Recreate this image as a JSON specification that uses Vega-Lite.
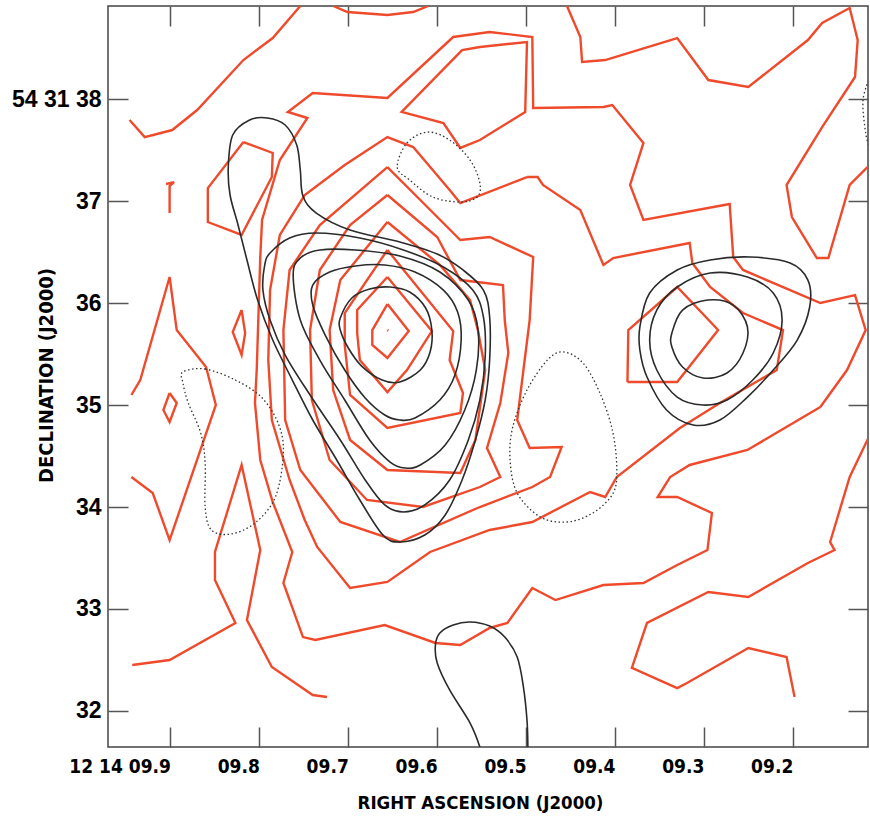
{
  "$schema": "https://vega.github.io/schema/vega-lite/v6.json",
  "width": 760,
  "height": 741,
  "autosize": {"type": "none"},
  "padding": {"left": 108, "top": 6, "right": 2, "bottom": 70},
  "background": "white",
  "config": {"view": {"stroke": "#444", "strokeWidth": 1.5}},
  "datasets": {
    "red": [
      {"c":"TL","ra":9.946,"dec":37.794},{"c":"TL","ra":9.929,"dec":37.627},{"c":"TL","ra":9.898,"dec":37.696},{"c":"TL","ra":9.870,"dec":37.892},{"c":"TL","ra":9.818,"dec":38.382},{"c":"TL","ra":9.785,"dec":38.598},{"c":"TL","ra":9.754,"dec":38.912},
      {"c":"TA","ra":9.717,"dec":38.912},{"c":"TA","ra":9.701,"dec":38.853},{"c":"TA","ra":9.656,"dec":38.824},{"c":"TA","ra":9.627,"dec":38.853},{"c":"TA","ra":9.610,"dec":38.912},
      {"c":"U2","ra":9.552,"dec":38.510},{"c":"U2","ra":9.499,"dec":38.559},{"c":"U2","ra":9.501,"dec":37.873},{"c":"U2","ra":9.552,"dec":37.598},{"c":"U2","ra":9.574,"dec":37.520},{"c":"U2","ra":9.593,"dec":37.765},{"c":"U2","ra":9.640,"dec":37.873},{"c":"U2","ra":9.572,"dec":38.480},{"c":"U2","ra":9.552,"dec":38.510},
      {"c":"U1","ra":9.169,"dec":34.980},{"c":"U1","ra":9.139,"dec":35.343},{"c":"U1","ra":9.118,"dec":35.735},{"c":"U1","ra":9.130,"dec":36.078},{"c":"U1","ra":9.169,"dec":36.000},{"c":"U1","ra":9.256,"dec":36.324},{"c":"U1","ra":9.267,"dec":36.451},{"c":"U1","ra":9.271,"dec":36.971},{"c":"U1","ra":9.368,"dec":36.814},{"c":"U1","ra":9.383,"dec":37.157},{"c":"U1","ra":9.368,"dec":37.569},{"c":"U1","ra":9.403,"dec":37.941},{"c":"U1","ra":9.413,"dec":37.922},{"c":"U1","ra":9.492,"dec":37.912},{"c":"U1","ra":9.493,"dec":38.608},{"c":"U1","ra":9.541,"dec":38.657},{"c":"U1","ra":9.582,"dec":38.608},{"c":"U1","ra":9.656,"dec":38.010},{"c":"U1","ra":9.740,"dec":38.059},{"c":"U1","ra":9.768,"dec":37.873},{"c":"U1","ra":9.746,"dec":37.814},{"c":"U1","ra":9.777,"dec":37.402},{"c":"U1","ra":9.797,"dec":36.814},{"c":"U1","ra":9.799,"dec":36.451},{"c":"U1","ra":9.803,"dec":35.343},{"c":"U1","ra":9.805,"dec":35.020},{"c":"U1","ra":9.799,"dec":34.461},{"c":"U1","ra":9.785,"dec":34.049},{"c":"U1","ra":9.763,"dec":33.559},{"c":"U1","ra":9.773,"dec":33.255},{"c":"U1","ra":9.751,"dec":32.725},{"c":"U1","ra":9.737,"dec":32.696},{"c":"U1","ra":9.659,"dec":32.843},{"c":"U1","ra":9.602,"dec":32.667},{"c":"U1","ra":9.574,"dec":32.647},{"c":"U1","ra":9.541,"dec":32.814},{"c":"U1","ra":9.521,"dec":32.863},{"c":"U1","ra":9.493,"dec":33.206},{"c":"U1","ra":9.467,"dec":33.088},{"c":"U1","ra":9.413,"dec":33.235},{"c":"U1","ra":9.368,"dec":33.255},{"c":"U1","ra":9.330,"dec":33.431},{"c":"U1","ra":9.296,"dec":33.578},{"c":"U1","ra":9.291,"dec":33.941},{"c":"U1","ra":9.330,"dec":34.098},{"c":"U1","ra":9.352,"dec":34.098},{"c":"U1","ra":9.338,"dec":34.294},{"c":"U1","ra":9.316,"dec":34.412},{"c":"U1","ra":9.251,"dec":34.559},{"c":"U1","ra":9.169,"dec":34.980},
      {"c":"M7","ra":9.499,"dec":37.235},{"c":"M7","ra":9.574,"dec":36.980},{"c":"M7","ra":9.586,"dec":37.108},{"c":"M7","ra":9.605,"dec":37.304},{"c":"M7","ra":9.627,"dec":37.529},{"c":"M7","ra":9.656,"dec":37.627},{"c":"M7","ra":9.704,"dec":37.353},{"c":"M7","ra":9.749,"dec":37.059},{"c":"M7","ra":9.777,"dec":36.667},{"c":"M7","ra":9.788,"dec":36.127},{"c":"M7","ra":9.790,"dec":35.441},{"c":"M7","ra":9.786,"dec":34.853},{"c":"M7","ra":9.766,"dec":34.265},{"c":"M7","ra":9.749,"dec":33.873},{"c":"M7","ra":9.735,"dec":33.608},{"c":"M7","ra":9.698,"dec":33.206},{"c":"M7","ra":9.656,"dec":33.265},{"c":"M7","ra":9.608,"dec":33.559},{"c":"M7","ra":9.541,"dec":33.775},{"c":"M7","ra":9.493,"dec":33.853},{"c":"M7","ra":9.428,"dec":34.147},{"c":"M7","ra":9.411,"dec":34.098},{"c":"M7","ra":9.398,"dec":34.294},{"c":"M7","ra":9.327,"dec":34.775},{"c":"M7","ra":9.282,"dec":35.020},{"c":"M7","ra":9.218,"dec":35.343},{"c":"M7","ra":9.211,"dec":35.735},{"c":"M7","ra":9.256,"dec":35.902},{"c":"M7","ra":9.293,"dec":36.157},{"c":"M7","ra":9.313,"dec":36.392},{"c":"M7","ra":9.316,"dec":36.588},{"c":"M7","ra":9.402,"dec":36.441},{"c":"M7","ra":9.413,"dec":36.373},{"c":"M7","ra":9.439,"dec":36.912},{"c":"M7","ra":9.481,"dec":37.157},{"c":"M7","ra":9.487,"dec":37.235},{"c":"M7","ra":9.499,"dec":37.235},
      {"c":"M6","ra":9.656,"dec":37.333},{"c":"M6","ra":9.619,"dec":37.010},{"c":"M6","ra":9.574,"dec":36.618},{"c":"M6","ra":9.541,"dec":36.647},{"c":"M6","ra":9.492,"dec":36.451},{"c":"M6","ra":9.496,"dec":35.833},{"c":"M6","ra":9.503,"dec":35.343},{"c":"M6","ra":9.510,"dec":34.853},{"c":"M6","ra":9.496,"dec":34.578},{"c":"M6","ra":9.460,"dec":34.588},{"c":"M6","ra":9.473,"dec":34.294},{"c":"M6","ra":9.493,"dec":34.196},{"c":"M6","ra":9.552,"dec":34.000},{"c":"M6","ra":9.642,"dec":33.657},{"c":"M6","ra":9.709,"dec":33.853},{"c":"M6","ra":9.754,"dec":34.363},{"c":"M6","ra":9.771,"dec":34.853},{"c":"M6","ra":9.773,"dec":35.735},{"c":"M6","ra":9.766,"dec":36.324},{"c":"M6","ra":9.732,"dec":36.765},{"c":"M6","ra":9.656,"dec":37.333},
      {"c":"M5","ra":9.656,"dec":37.059},{"c":"M5","ra":9.600,"dec":36.647},{"c":"M5","ra":9.574,"dec":36.225},{"c":"M5","ra":9.526,"dec":36.176},{"c":"M5","ra":9.524,"dec":35.833},{"c":"M5","ra":9.520,"dec":35.510},{"c":"M5","ra":9.529,"dec":35.020},{"c":"M5","ra":9.544,"dec":34.578},{"c":"M5","ra":9.529,"dec":34.294},{"c":"M5","ra":9.552,"dec":34.196},{"c":"M5","ra":9.616,"dec":34.000},{"c":"M5","ra":9.679,"dec":34.069},{"c":"M5","ra":9.721,"dec":34.461},{"c":"M5","ra":9.741,"dec":35.049},{"c":"M5","ra":9.743,"dec":35.735},{"c":"M5","ra":9.732,"dec":36.324},{"c":"M5","ra":9.698,"dec":36.765},{"c":"M5","ra":9.656,"dec":37.059},
      {"c":"M4","ra":9.656,"dec":36.794},{"c":"M4","ra":9.597,"dec":36.373},{"c":"M4","ra":9.563,"dec":36.029},{"c":"M4","ra":9.554,"dec":35.725},{"c":"M4","ra":9.546,"dec":35.343},{"c":"M4","ra":9.557,"dec":34.657},{"c":"M4","ra":9.574,"dec":34.333},{"c":"M4","ra":9.656,"dec":34.363},{"c":"M4","ra":9.698,"dec":34.657},{"c":"M4","ra":9.717,"dec":35.147},{"c":"M4","ra":9.721,"dec":35.735},{"c":"M4","ra":9.709,"dec":36.225},{"c":"M4","ra":9.656,"dec":36.794},
      {"c":"M3","ra":9.656,"dec":36.520},{"c":"M3","ra":9.582,"dec":35.725},{"c":"M3","ra":9.586,"dec":35.441},{"c":"M3","ra":9.571,"dec":35.118},{"c":"M3","ra":9.574,"dec":34.922},{"c":"M3","ra":9.656,"dec":34.775},{"c":"M3","ra":9.698,"dec":35.098},{"c":"M3","ra":9.704,"dec":35.588},{"c":"M3","ra":9.704,"dec":35.902},{"c":"M3","ra":9.656,"dec":36.520},
      {"c":"M2","ra":9.656,"dec":36.255},{"c":"M2","ra":9.606,"dec":35.725},{"c":"M2","ra":9.634,"dec":35.343},{"c":"M2","ra":9.656,"dec":35.127},{"c":"M2","ra":9.687,"dec":35.441},{"c":"M2","ra":9.690,"dec":35.706},{"c":"M2","ra":9.690,"dec":35.931},{"c":"M2","ra":9.656,"dec":36.255},
      {"c":"M1","ra":9.656,"dec":35.990},{"c":"M1","ra":9.632,"dec":35.725},{"c":"M1","ra":9.656,"dec":35.461},{"c":"M1","ra":9.673,"dec":35.588},{"c":"M1","ra":9.673,"dec":35.735},{"c":"M1","ra":9.656,"dec":35.990},
      {"c":"M0","ra":9.656,"dec":35.735},{"c":"M0","ra":9.655,"dec":35.728},
      {"c":"RP","ra":9.386,"dec":35.225},{"c":"RP","ra":9.385,"dec":35.735},{"c":"RP","ra":9.330,"dec":36.157},{"c":"RP","ra":9.284,"dec":35.735},{"c":"RP","ra":9.330,"dec":35.225},{"c":"RP","ra":9.386,"dec":35.225},
      {"c":"RU","ra":9.454,"dec":38.912},{"c":"RU","ra":9.439,"dec":38.608},{"c":"RU","ra":9.437,"dec":38.363},{"c":"RU","ra":9.411,"dec":38.382},{"c":"RU","ra":9.330,"dec":38.598},{"c":"RU","ra":9.295,"dec":38.186},{"c":"RU","ra":9.250,"dec":38.118},{"c":"RU","ra":9.183,"dec":38.578},{"c":"RU","ra":9.167,"dec":38.745},{"c":"RU","ra":9.136,"dec":38.892},{"c":"RU","ra":9.127,"dec":38.578},{"c":"RU","ra":9.130,"dec":38.216},{"c":"RU","ra":9.167,"dec":37.725},{"c":"RU","ra":9.207,"dec":37.157},{"c":"RU","ra":9.201,"dec":36.843},{"c":"RU","ra":9.173,"dec":36.441},{"c":"RU","ra":9.160,"dec":36.441},{"c":"RU","ra":9.136,"dec":37.157},{"c":"RU","ra":9.116,"dec":37.333},
      {"c":"RL","ra":9.198,"dec":32.137},{"c":"RL","ra":9.207,"dec":32.529},{"c":"RL","ra":9.250,"dec":32.618},{"c":"RL","ra":9.319,"dec":32.275},{"c":"RL","ra":9.330,"dec":32.225},{"c":"RL","ra":9.381,"dec":32.422},{"c":"RL","ra":9.364,"dec":32.863},{"c":"RL","ra":9.295,"dec":33.167},{"c":"RL","ra":9.250,"dec":33.118},{"c":"RL","ra":9.183,"dec":33.451},{"c":"RL","ra":9.153,"dec":33.578},{"c":"RL","ra":9.158,"dec":33.657},{"c":"RL","ra":9.136,"dec":34.294},{"c":"RL","ra":9.115,"dec":34.676},
      {"c":"LA1","ra":9.944,"dec":35.098},{"c":"LA1","ra":9.934,"dec":35.245},{"c":"LA1","ra":9.901,"dec":36.255},{"c":"LA1","ra":9.893,"dec":35.735},{"c":"LA1","ra":9.860,"dec":35.373},{"c":"LA1","ra":9.849,"dec":35.000},{"c":"LA1","ra":9.901,"dec":33.676},{"c":"LA1","ra":9.920,"dec":34.137},{"c":"LA1","ra":9.944,"dec":34.294},
      {"c":"SD1","ra":9.901,"dec":35.118},{"c":"SD1","ra":9.893,"dec":35.020},{"c":"SD1","ra":9.901,"dec":34.833},{"c":"SD1","ra":9.908,"dec":34.951},{"c":"SD1","ra":9.901,"dec":35.118},
      {"c":"SD2","ra":9.820,"dec":35.931},{"c":"SD2","ra":9.816,"dec":35.706},{"c":"SD2","ra":9.820,"dec":35.490},{"c":"SD2","ra":9.830,"dec":35.716},{"c":"SD2","ra":9.820,"dec":35.931},
      {"c":"TI","ra":9.905,"dec":37.167},{"c":"TI","ra":9.896,"dec":37.186},{"c":"TI","ra":9.901,"dec":37.147},{"c":"TI","ra":9.901,"dec":36.882},
      {"c":"PG","ra":9.818,"dec":37.578},{"c":"PG","ra":9.785,"dec":37.471},{"c":"PG","ra":9.786,"dec":37.235},{"c":"PG","ra":9.820,"dec":36.667},{"c":"PG","ra":9.858,"dec":36.794},{"c":"PG","ra":9.858,"dec":37.127},{"c":"PG","ra":9.818,"dec":37.578},
      {"c":"LA2","ra":9.943,"dec":32.451},{"c":"LA2","ra":9.901,"dec":32.500},{"c":"LA2","ra":9.827,"dec":32.863},{"c":"LA2","ra":9.850,"dec":33.284},{"c":"LA2","ra":9.850,"dec":33.559},{"c":"LA2","ra":9.820,"dec":34.412},{"c":"LA2","ra":9.799,"dec":33.578},{"c":"LA2","ra":9.814,"dec":32.892},{"c":"LA2","ra":9.786,"dec":32.431},{"c":"LA2","ra":9.740,"dec":32.157},{"c":"LA2","ra":9.724,"dec":32.137}
    ],
    "blk": [
      {"c":"B1","ra":9.709,"dec":35.853},{"c":"B1","ra":9.696,"dec":36.049},{"c":"B1","ra":9.676,"dec":36.137},{"c":"B1","ra":9.653,"dec":36.157},{"c":"B1","ra":9.631,"dec":36.108},{"c":"B1","ra":9.613,"dec":35.951},{"c":"B1","ra":9.606,"dec":35.735},{"c":"B1","ra":9.608,"dec":35.520},{"c":"B1","ra":9.619,"dec":35.343},{"c":"B1","ra":9.642,"dec":35.225},{"c":"B1","ra":9.662,"dec":35.245},{"c":"B1","ra":9.685,"dec":35.382},{"c":"B1","ra":9.700,"dec":35.559},{"c":"B1","ra":9.709,"dec":35.735},
      {"c":"B2","ra":9.740,"dec":36.176},{"c":"B2","ra":9.721,"dec":36.304},{"c":"B2","ra":9.692,"dec":36.363},{"c":"B2","ra":9.659,"dec":36.373},{"c":"B2","ra":9.625,"dec":36.304},{"c":"B2","ra":9.593,"dec":36.127},{"c":"B2","ra":9.577,"dec":35.912},{"c":"B2","ra":9.573,"dec":35.637},{"c":"B2","ra":9.580,"dec":35.294},{"c":"B2","ra":9.597,"dec":35.049},{"c":"B2","ra":9.625,"dec":34.873},{"c":"B2","ra":9.642,"dec":34.853},{"c":"B2","ra":9.659,"dec":34.902},{"c":"B2","ra":9.681,"dec":35.069},{"c":"B2","ra":9.704,"dec":35.343},{"c":"B2","ra":9.726,"dec":35.686},{"c":"B2","ra":9.740,"dec":35.980},
      {"c":"B3","ra":9.762,"dec":36.275},{"c":"B3","ra":9.754,"dec":36.441},{"c":"B3","ra":9.732,"dec":36.520},{"c":"B3","ra":9.692,"dec":36.520},{"c":"B3","ra":9.642,"dec":36.461},{"c":"B3","ra":9.597,"dec":36.304},{"c":"B3","ra":9.565,"dec":36.029},{"c":"B3","ra":9.554,"dec":35.735},{"c":"B3","ra":9.556,"dec":35.343},{"c":"B3","ra":9.569,"dec":34.951},{"c":"B3","ra":9.591,"dec":34.608},{"c":"B3","ra":9.619,"dec":34.412},{"c":"B3","ra":9.636,"dec":34.382},{"c":"B3","ra":9.653,"dec":34.441},{"c":"B3","ra":9.676,"dec":34.657},{"c":"B3","ra":9.704,"dec":35.049},{"c":"B3","ra":9.732,"dec":35.441},{"c":"B3","ra":9.754,"dec":35.833},
      {"c":"B4","ra":9.788,"dec":36.490},{"c":"B4","ra":9.766,"dec":36.637},{"c":"B4","ra":9.736,"dec":36.686},{"c":"B4","ra":9.687,"dec":36.637},{"c":"B4","ra":9.638,"dec":36.520},{"c":"B4","ra":9.593,"dec":36.353},{"c":"B4","ra":9.560,"dec":36.127},{"c":"B4","ra":9.548,"dec":35.863},{"c":"B4","ra":9.546,"dec":35.471},{"c":"B4","ra":9.552,"dec":35.049},{"c":"B4","ra":9.565,"dec":34.657},{"c":"B4","ra":9.586,"dec":34.265},{"c":"B4","ra":9.614,"dec":34.020},{"c":"B4","ra":9.638,"dec":33.951},{"c":"B4","ra":9.659,"dec":34.020},{"c":"B4","ra":9.681,"dec":34.265},{"c":"B4","ra":9.709,"dec":34.657},{"c":"B4","ra":9.743,"dec":35.098},{"c":"B4","ra":9.771,"dec":35.490},{"c":"B4","ra":9.788,"dec":35.833},{"c":"B4","ra":9.796,"dec":36.127},{"c":"B4","ra":9.794,"dec":36.373},
      {"c":"B5","ra":9.835,"dec":37.333},{"c":"B5","ra":9.830,"dec":37.647},{"c":"B5","ra":9.811,"dec":37.794},{"c":"B5","ra":9.791,"dec":37.814},{"c":"B5","ra":9.771,"dec":37.745},{"c":"B5","ra":9.758,"dec":37.549},{"c":"B5","ra":9.754,"dec":37.304},{"c":"B5","ra":9.751,"dec":37.049},{"c":"B5","ra":9.736,"dec":36.882},{"c":"B5","ra":9.698,"dec":36.716},{"c":"B5","ra":9.642,"dec":36.598},{"c":"B5","ra":9.600,"dec":36.480},{"c":"B5","ra":9.571,"dec":36.324},{"c":"B5","ra":9.548,"dec":36.127},{"c":"B5","ra":9.541,"dec":35.863},{"c":"B5","ra":9.541,"dec":35.441},{"c":"B5","ra":9.546,"dec":35.049},{"c":"B5","ra":9.557,"dec":34.657},{"c":"B5","ra":9.572,"dec":34.265},{"c":"B5","ra":9.591,"dec":33.922},{"c":"B5","ra":9.614,"dec":33.725},{"c":"B5","ra":9.642,"dec":33.657},{"c":"B5","ra":9.661,"dec":33.725},{"c":"B5","ra":9.687,"dec":34.069},{"c":"B5","ra":9.713,"dec":34.461},{"c":"B5","ra":9.740,"dec":34.853},{"c":"B5","ra":9.763,"dec":35.245},{"c":"B5","ra":9.785,"dec":35.637},{"c":"B5","ra":9.802,"dec":36.029},{"c":"B5","ra":9.814,"dec":36.422},{"c":"B5","ra":9.824,"dec":36.765},{"c":"B5","ra":9.833,"dec":37.059},
      {"c":"RB1","ra":9.336,"dec":35.706},{"c":"RB1","ra":9.324,"dec":35.931},{"c":"RB1","ra":9.296,"dec":36.029},{"c":"RB1","ra":9.267,"dec":35.980},{"c":"RB1","ra":9.251,"dec":35.765},{"c":"RB1","ra":9.256,"dec":35.510},{"c":"RB1","ra":9.274,"dec":35.314},{"c":"RB1","ra":9.301,"dec":35.265},{"c":"RB1","ra":9.324,"dec":35.373},{"c":"RB1","ra":9.336,"dec":35.569},
      {"c":"RB2","ra":9.361,"dec":35.637},{"c":"RB2","ra":9.353,"dec":35.931},{"c":"RB2","ra":9.330,"dec":36.157},{"c":"RB2","ra":9.293,"dec":36.294},{"c":"RB2","ra":9.251,"dec":36.255},{"c":"RB2","ra":9.222,"dec":36.098},{"c":"RB2","ra":9.212,"dec":35.833},{"c":"RB2","ra":9.222,"dec":35.510},{"c":"RB2","ra":9.245,"dec":35.245},{"c":"RB2","ra":9.274,"dec":35.049},{"c":"RB2","ra":9.301,"dec":35.000},{"c":"RB2","ra":9.330,"dec":35.078},{"c":"RB2","ra":9.353,"dec":35.343},
      {"c":"RB3","ra":9.372,"dec":35.765},{"c":"RB3","ra":9.361,"dec":36.098},{"c":"RB3","ra":9.330,"dec":36.324},{"c":"RB3","ra":9.293,"dec":36.422},{"c":"RB3","ra":9.248,"dec":36.451},{"c":"RB3","ra":9.203,"dec":36.392},{"c":"RB3","ra":9.183,"dec":36.225},{"c":"RB3","ra":9.181,"dec":35.961},{"c":"RB3","ra":9.195,"dec":35.637},{"c":"RB3","ra":9.222,"dec":35.343},{"c":"RB3","ra":9.251,"dec":35.078},{"c":"RB3","ra":9.282,"dec":34.853},{"c":"RB3","ra":9.312,"dec":34.804},{"c":"RB3","ra":9.342,"dec":34.951},{"c":"RB3","ra":9.364,"dec":35.275},{"c":"RB3","ra":9.372,"dec":35.539}
    ],
    "blkOpen": [
      {"c":"BB","ra":9.552,"dec":31.647},{"c":"BB","ra":9.563,"dec":31.882},{"c":"BB","ra":9.586,"dec":32.206},{"c":"BB","ra":9.600,"dec":32.471},{"c":"BB","ra":9.602,"dec":32.647},{"c":"BB","ra":9.597,"dec":32.765},{"c":"BB","ra":9.582,"dec":32.843},{"c":"BB","ra":9.563,"dec":32.873},{"c":"BB","ra":9.541,"dec":32.833},{"c":"BB","ra":9.524,"dec":32.725},{"c":"BB","ra":9.510,"dec":32.529},{"c":"BB","ra":9.503,"dec":32.235},{"c":"BB","ra":9.499,"dec":31.912},{"c":"BB","ra":9.498,"dec":31.647}
    ],
    "dot": [
      {"c":"D1","ra":9.645,"dec":37.333},{"c":"D1","ra":9.634,"dec":37.569},{"c":"D1","ra":9.611,"dec":37.676},{"c":"D1","ra":9.586,"dec":37.598},{"c":"D1","ra":9.563,"dec":37.402},{"c":"D1","ra":9.552,"dec":37.176},{"c":"D1","ra":9.555,"dec":37.039},{"c":"D1","ra":9.574,"dec":36.990},{"c":"D1","ra":9.605,"dec":37.039},{"c":"D1","ra":9.631,"dec":37.206},
      {"c":"D2","ra":9.886,"dec":35.324},{"c":"D2","ra":9.861,"dec":35.353},{"c":"D2","ra":9.827,"dec":35.245},{"c":"D2","ra":9.798,"dec":35.078},{"c":"D2","ra":9.779,"dec":34.824},{"c":"D2","ra":9.773,"dec":34.529},{"c":"D2","ra":9.782,"dec":34.098},{"c":"D2","ra":9.805,"dec":33.843},{"c":"D2","ra":9.832,"dec":33.735},{"c":"D2","ra":9.854,"dec":33.775},{"c":"D2","ra":9.861,"dec":34.000},{"c":"D2","ra":9.861,"dec":34.431},{"c":"D2","ra":9.866,"dec":34.725},{"c":"D2","ra":9.880,"dec":35.020},{"c":"D2","ra":9.886,"dec":35.216},
      {"c":"D3","ra":9.458,"dec":35.520},{"c":"D3","ra":9.476,"dec":35.441},{"c":"D3","ra":9.499,"dec":35.147},{"c":"D3","ra":9.515,"dec":34.784},{"c":"D3","ra":9.518,"dec":34.461},{"c":"D3","ra":9.510,"dec":34.137},{"c":"D3","ra":9.484,"dec":33.902},{"c":"D3","ra":9.454,"dec":33.853},{"c":"D3","ra":9.425,"dec":33.941},{"c":"D3","ra":9.402,"dec":34.137},{"c":"D3","ra":9.398,"dec":34.392},{"c":"D3","ra":9.403,"dec":34.755},{"c":"D3","ra":9.417,"dec":35.118},{"c":"D3","ra":9.436,"dec":35.412}
    ],
    "dotOpen": [
      {"c":"D4","ra":9.113,"dec":38.216},{"c":"D4","ra":9.121,"dec":37.990},{"c":"D4","ra":9.118,"dec":37.667},{"c":"D4","ra":9.113,"dec":37.500}
    ]
  },
  "resolve": {"axis": {"x": "independent", "y": "independent"}},
  "layer": [
    {
      "data": {"name": "red"},
      "mark": {"type": "line", "color": "#ef4a2b", "strokeWidth": 2.4, "strokeJoin": "miter", "clip": true},
      "encoding": {
        "x": {"field": "ra", "type": "quantitative",
          "scale": {"domain": [9.1154, 9.9703], "reverse": true, "nice": false, "zero": false},
          "axis": {"orient": "bottom", "values": [9.9, 9.8, 9.7, 9.6, 9.5, 9.4, 9.3, 9.2],
            "labelExpr": "(datum.value > 9.85 ? '12 14 ' : '') + '0' + format(datum.value, '.1f')",
            "labelAlign": "right", "labelFont": "DejaVu Sans Condensed", "labelFontWeight": "bold", "labelFontSize": 19, "labelColor": "#000",
            "labelPadding": 30, "labelFlush": false, "labelOverlap": false,
            "tickSize": -20, "tickColor": "#555", "tickWidth": 1.5, "domain": false, "grid": false,
            "title": "RIGHT ASCENSION (J2000)", "titleFont": "DejaVu Sans Condensed", "titleFontWeight": "bold", "titleFontSize": 18.5, "titleColor": "#000",
            "titleX": 372, "titleY": 55, "titleBaseline": "middle"}},
        "y": {"field": "dec", "type": "quantitative",
          "scale": {"domain": [31.647, 38.912], "nice": false, "zero": false},
          "axis": {"orient": "left", "values": [32, 33, 34, 35, 36, 37, 38],
            "labelExpr": "datum.value == 38 ? '54 31 38' : datum.value + ''",
            "labelAlign": "right", "labelBaseline": "middle", "labelFont": "Liberation Sans", "labelFontWeight": "bold", "labelFontSize": 23, "labelColor": "#000",
            "labelPadding": 27, "labelFlush": false, "labelOverlap": false,
            "tickSize": -20, "tickColor": "#555", "tickWidth": 1.5, "domain": false, "grid": false,
            "title": "DECLINATION (J2000)", "titleFont": "DejaVu Sans Condensed", "titleFontWeight": "bold", "titleFontSize": 20, "titleColor": "#000",
            "titleX": -62, "titleY": 369, "titleBaseline": "middle"}},
        "detail": {"field": "c"},
        "order": {"value": null}
      }
    },
    {
      "data": {"name": "blk"},
      "mark": {"type": "line", "color": "#2b2b2b", "strokeWidth": 1.6, "interpolate": "cardinal-closed", "clip": true},
      "encoding": {
        "x": {"field": "ra", "type": "quantitative",
          "axis": {"orient": "top", "values": [9.9, 9.8, 9.7, 9.6, 9.5, 9.4, 9.3, 9.2], "labels": false, "tickSize": -20, "tickColor": "#555", "tickWidth": 1.5, "domain": false, "grid": false, "title": null}},
        "y": {"field": "dec", "type": "quantitative",
          "axis": {"orient": "right", "values": [32, 33, 34, 35, 36, 37, 38], "labels": false, "tickSize": -20, "tickColor": "#555", "tickWidth": 1.5, "domain": false, "grid": false, "title": null}},
        "detail": {"field": "c"},
        "order": {"value": null}
      }
    },
    {
      "data": {"name": "blkOpen"},
      "mark": {"type": "line", "color": "#2b2b2b", "strokeWidth": 1.6, "interpolate": "cardinal", "clip": true},
      "encoding": {
        "x": {"field": "ra", "type": "quantitative", "axis": null},
        "y": {"field": "dec", "type": "quantitative", "axis": null},
        "detail": {"field": "c"},
        "order": {"value": null}
      }
    },
    {
      "data": {"name": "dot"},
      "mark": {"type": "line", "color": "#333", "strokeWidth": 1.3, "strokeDash": [1.5, 2.5], "interpolate": "cardinal-closed", "clip": true},
      "encoding": {
        "x": {"field": "ra", "type": "quantitative", "axis": null},
        "y": {"field": "dec", "type": "quantitative", "axis": null},
        "detail": {"field": "c"},
        "order": {"value": null}
      }
    },
    {
      "data": {"name": "dotOpen"},
      "mark": {"type": "line", "color": "#333", "strokeWidth": 1.3, "strokeDash": [1.5, 2.5], "interpolate": "cardinal", "clip": true},
      "encoding": {
        "x": {"field": "ra", "type": "quantitative", "axis": null},
        "y": {"field": "dec", "type": "quantitative", "axis": null},
        "detail": {"field": "c"},
        "order": {"value": null}
      }
    }
  ]
}
